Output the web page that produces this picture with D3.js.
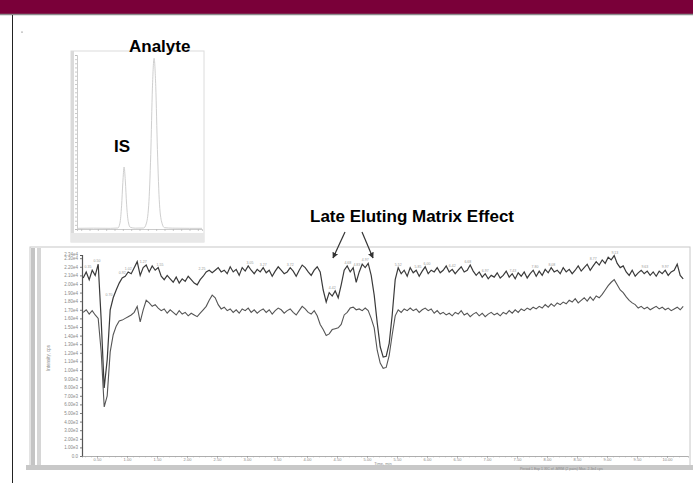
<!DOCTYPE html>
<html lang="en">
<head>
<meta charset="UTF-8">
<script src="https://d3js.org/d3.v7.min.js"></script>
<style>
  body { margin: 0; background: #fff; font-family: Arial, "Liberation Sans", sans-serif; }
  .tiny text { fill: #888; }
</style>
</head>
<body>
<svg id="slide"></svg>
<script>
// ---- main chromatogram data (kcps), sampled every 0.05 min from 0.27 min ----
const sampleStart = 0.27;
const sampleStep = 0.05;

const upperTrace = [
  20.7, 21.4, 20.5, 21.6, 21.0, 22.3, 15.8, 7.9, 11.2, 17.0,
  18.4, 19.3, 20.1, 20.7, 20.9, 21.4, 21.2, 21.9, 22.6, 21.0,
  21.9, 22.2, 21.4, 22.1, 21.6, 21.9, 20.9, 20.5, 21.0, 20.6,
  20.2, 20.8, 20.1, 20.6, 20.3, 20.9, 20.5, 20.1, 19.9, 20.5,
  20.9, 21.4, 21.6, 21.3, 21.6, 21.9, 21.4, 21.6, 21.2, 22.0,
  21.4, 21.7, 21.0, 21.9, 21.5, 22.1, 21.6, 21.2, 21.7, 21.4,
  21.9, 21.3, 21.6, 20.9, 21.5, 22.0, 21.6, 21.2, 21.4, 21.9,
  21.5, 20.9, 21.6, 22.2, 21.9, 21.4, 21.0, 21.6, 22.0, 21.4,
  19.3, 17.9, 19.0, 18.6, 19.2, 18.4, 19.9, 21.6, 22.1, 21.4,
  21.9, 20.2, 21.4, 22.3, 21.9, 22.4, 21.0, 18.7, 15.5, 12.7,
  11.5, 11.6, 13.1, 16.4, 20.5, 21.9, 21.2, 21.6, 20.9, 21.9,
  21.3, 21.6, 20.9, 21.5, 22.0, 21.2, 21.6, 21.4, 21.9, 21.3,
  21.6, 22.1, 21.4, 21.7, 21.2, 21.6, 22.0, 21.4, 21.6, 22.2,
  21.5, 21.0, 21.4, 20.8, 21.2, 20.6, 21.0, 20.8, 21.3, 20.7,
  21.0, 21.5, 20.8, 21.2, 20.6, 21.3, 20.9, 21.4, 20.7, 21.2,
  21.6, 20.9, 21.5, 21.0, 21.7, 21.3, 21.9, 21.4, 21.6, 21.2,
  21.9, 21.4, 21.7, 21.2, 21.6, 22.1, 21.5, 21.9, 22.3, 21.6,
  22.1, 22.6, 22.2, 22.8, 22.4, 23.1, 22.8, 23.3, 22.4, 21.9,
  22.1, 21.4, 21.0, 21.6, 20.9, 21.3, 21.6, 21.2, 21.5, 21.0,
  21.4, 20.9, 21.5, 21.2, 21.6, 21.0, 21.4, 21.6, 22.3, 21.0, 20.6
];

const lowerTrace = [
  16.7, 17.0, 16.5, 16.9, 16.4, 16.0, 12.1, 5.7, 7.0, 12.1,
  14.1, 15.1, 15.7, 15.8, 16.0, 16.2, 16.4, 16.7, 17.4, 15.6,
  17.0, 18.1, 17.8, 17.4, 17.6, 17.2, 16.9, 17.1, 16.6, 17.0,
  16.7, 16.4, 16.9, 16.5, 16.7, 16.3, 16.6, 16.4, 16.2, 16.6,
  17.0, 17.4, 18.1, 18.7, 18.4, 17.6, 17.1, 17.3, 16.9, 17.1,
  16.7, 17.0, 16.6, 17.1, 16.9, 17.2, 16.7, 17.0, 16.6, 16.9,
  17.1, 16.7, 17.0, 16.5, 16.9, 17.2, 17.0, 16.6, 16.9, 17.1,
  16.7, 16.4, 16.9, 17.4, 17.1, 16.7, 16.5, 16.9, 16.3, 15.3,
  14.7, 14.0, 14.2, 14.7, 14.8, 14.9, 15.3, 16.4, 16.7, 17.2,
  17.3, 17.0, 17.1, 16.9, 17.2, 16.9, 16.0, 14.9, 12.3, 10.8,
  10.2, 10.3, 11.7, 14.1, 16.3, 17.0, 16.7, 17.1, 16.9, 17.2,
  16.9, 17.1, 16.7, 17.0, 17.2, 16.9, 17.1, 16.6, 16.9, 16.5,
  16.7, 16.4, 16.6, 16.3, 16.7, 16.5, 16.9, 16.4, 16.6, 16.2,
  16.5, 16.7, 16.3, 16.6, 16.2, 16.5, 16.7, 16.4, 16.6, 16.3,
  16.7, 16.5, 16.9, 16.6, 17.0, 16.7, 17.1, 16.9, 17.2, 17.0,
  17.3, 17.1, 17.4, 17.2, 17.6, 17.3, 17.7, 17.4, 17.8, 17.6,
  17.9, 17.7, 18.1, 17.9, 18.3, 17.8, 18.1, 18.4, 18.0, 18.5,
  18.1, 18.6, 18.4, 18.8, 19.3, 19.8, 20.2, 20.5, 19.9, 19.3,
  19.0, 18.5, 18.1, 17.8, 17.6, 17.2, 17.4, 17.1, 17.3, 17.0,
  17.2, 17.4, 17.1, 17.3, 17.0, 17.2, 16.9, 17.1, 17.3, 17.0, 17.4
];

// retention time labels printed above the upper trace
const peakLabels = [0.35, 0.50, 0.70, 0.92, 1.02, 1.27, 1.55, 2.25, 3.05, 3.27, 3.72,
  4.42, 4.68, 4.83, 4.97, 5.52, 5.85, 6.00, 6.42, 6.68, 6.97, 7.43, 7.80, 8.08,
  8.77, 9.13, 9.63, 9.97];

const xTickValues = [0.5, 1.0, 1.5, 2.0, 2.5, 3.0, 3.5, 4.0, 4.5, 5.0, 5.5, 6.0,
  6.5, 7.0, 7.5, 8.0, 8.5, 9.0, 9.5, 10.0];
const yTickValues = [0, 1, 2, 3, 4, 5, 6, 7, 8, 9, 10, 11, 12, 13, 14, 15, 16, 17,
  18, 19, 20, 21, 22, 23];
const yMaxLabel = 23.4;

// ---- inset: IS and analyte peaks ----
const insetTimes = [0.00, 0.40, 0.80, 0.98, 1.03, 1.07, 1.10, 1.13, 1.16, 1.19, 1.23,
  1.28, 1.40, 1.60, 1.66, 1.72, 1.77, 1.81, 1.85, 1.89, 1.93, 1.98, 2.04, 2.10, 2.30,
  2.70, 3.00];
const insetIntensity = [0.4, 0.5, 0.4, 0.6, 3.5, 14, 28, 37.4, 29, 15, 4.5,
  1.0, 0.5, 0.6, 3.0, 14, 45, 85, 103, 86, 48, 15, 3.5, 0.8, 0.5,
  0.4, 0.4];

const W = 693, H = 483;
const svg = d3.select("#slide").attr("width", W).attr("height", H);

// header band
svg.append("rect").attr("x", 0).attr("y", 0).attr("width", W).attr("height", 14).attr("fill", "#7a0039");
svg.append("line").attr("x1", 0).attr("x2", W).attr("y1", 14.5).attr("y2", 14.5).attr("stroke", "#8c8c8c").attr("stroke-width", 1.5);
svg.append("line").attr("x1", 12.5).attr("x2", 12.5).attr("y1", 15).attr("y2", H).attr("stroke", "#222").attr("stroke-width", 1);
svg.append("circle").attr("cx", 22).attr("cy", 32).attr("r", 0.6).attr("fill", "#444");

// ---------- inset chart ----------
const inset = svg.append("g");
inset.append("rect").attr("x", 71).attr("y", 51).attr("width", 133).attr("height", 191)
  .attr("fill", "#fff").attr("stroke", "#dcdcdc").attr("stroke-width", 1);
inset.append("rect").attr("x", 71).attr("y", 51).attr("width", 3).attr("height", 191).attr("fill", "#dadada");
inset.append("rect").attr("x", 71).attr("y", 233).attr("width", 133).attr("height", 9).attr("fill", "#e8e8e8");

const ix = d3.scaleLinear().domain([0, 3.0]).range([77, 202]);
const iy = d3.scaleLinear().domain([0, 105]).range([229, 55]);

const iyAxis = inset.append("g").attr("class", "tiny")
  .attr("transform", "translate(77,0)")
  .call(d3.axisLeft(iy).tickValues(d3.range(0, 106, 2.5)).tickSize(2).tickFormat(""));
iyAxis.selectAll("path, line").attr("stroke", "#b4b4b4").attr("stroke-width", 0.7);

const ixAxis = inset.append("g").attr("class", "tiny")
  .attr("transform", "translate(0,229)")
  .call(d3.axisBottom(ix).tickValues(d3.range(0.1, 3.0, 0.2)).tickSize(2).tickFormat(""));
ixAxis.selectAll("path, line").attr("stroke", "#b4b4b4").attr("stroke-width", 0.7);

const insetLine = d3.line()
  .x((d, i) => ix(insetTimes[i]))
  .y(d => iy(d))
  .curve(d3.curveMonotoneX);
inset.append("path").datum(insetIntensity).attr("d", insetLine)
  .attr("fill", "none").attr("stroke", "#cfcfcf").attr("stroke-width", 1);

svg.append("text").attr("x", 129).attr("y", 52).attr("font-size", 17).attr("font-weight", "bold").text("Analyte");
svg.append("text").attr("x", 114).attr("y", 152).attr("font-size", 17).attr("font-weight", "bold").text("IS");

// ---------- main chart ----------
const main = svg.append("g");
main.append("rect").attr("x", 30).attr("y", 247).attr("width", 660).attr("height", 222)
  .attr("fill", "#fff").attr("stroke", "#c8c8c8").attr("stroke-width", 1);
main.append("rect").attr("x", 31).attr("y", 248).attr("width", 4).attr("height", 220).attr("fill", "#c4c4c4");
main.append("rect").attr("x", 37).attr("y", 248).attr("width", 4).attr("height", 220).attr("fill", "#d6d6d6");
main.append("rect").attr("x", 26).attr("y", 465).attr("width", 667).attr("height", 5).attr("fill", "#c8c8c8");

const x = d3.scaleLinear().domain([0.25, 10.35]).range([82, 688]);
const y = d3.scaleLinear().domain([0, 23.37]).range([456, 255]);

const yAxis = main.append("g").attr("class", "tiny")
  .attr("transform", "translate(82,0)")
  .call(d3.axisLeft(y).tickValues(yTickValues).tickSize(2).tickPadding(2)
    .tickFormat(d => d === 0 ? "0.0" : (d * 1000).toExponential(2).replace("+", "")));
yAxis.select("path").attr("stroke", "#555").attr("stroke-width", 1.2);
yAxis.selectAll("line").attr("stroke", "#777");
yAxis.selectAll("text").attr("font-size", 4.5);
main.append("text").attr("x", 78).attr("y", y(yMaxLabel) + 1.5).attr("text-anchor", "end")
  .attr("font-size", 4.5).attr("fill", "#888").text((yMaxLabel * 1000).toExponential(2).replace("+", ""));

const xAxis = main.append("g").attr("class", "tiny")
  .attr("transform", "translate(0,456)")
  .call(d3.axisBottom(x).tickValues(xTickValues).tickSize(1.5).tickPadding(0.5).tickFormat(d3.format(".2f")));
xAxis.select("path").attr("stroke", "#999").attr("stroke-width", 0.8);
xAxis.selectAll("line").attr("stroke", "#888");
xAxis.selectAll("text").attr("font-size", 4);
main.append("g").attr("transform", "translate(0,456)")
  .call(d3.axisBottom(x).tickValues(d3.range(0.3, 10.3, 0.1)).tickSize(1.5).tickFormat(""))
  .call(g => g.select("path").remove())
  .selectAll("line").attr("stroke", "#aaa").attr("stroke-width", 0.5);

main.append("text").attr("x", 383).attr("y", 464.5).attr("text-anchor", "middle")
  .attr("font-size", 4).attr("fill", "#888").text("Time, min");
main.append("text").attr("transform", "translate(50,358) rotate(-90)").attr("text-anchor", "middle")
  .attr("font-size", 4.5).attr("fill", "#888").text("Intensity, cps");

const traceLine = d3.line()
  .x((d, i) => x(sampleStart + i * sampleStep))
  .y(d => y(d));
main.append("path").datum(lowerTrace).attr("d", traceLine)
  .attr("fill", "none").attr("stroke", "#555").attr("stroke-width", 1.1);
main.append("path").datum(upperTrace).attr("d", traceLine)
  .attr("fill", "none").attr("stroke", "#3a3a3a").attr("stroke-width", 1.2);

main.append("g").selectAll("text").data(peakLabels).join("text")
  .attr("x", d => x(d))
  .attr("y", d => {
    const i = Math.round((d - sampleStart) / sampleStep);
    const v = d3.max(upperTrace.slice(Math.max(0, i - 1), i + 2));
    return y(v) - 2;
  })
  .attr("text-anchor", "middle").attr("font-size", 3.5).attr("fill", "#999")
  .text(d => d.toFixed(2));

// status bar text under the chart
main.append("text").attr("x", 520).attr("y", 469.5).attr("font-size", 3.5).attr("fill", "#888")
  .text("Period 1 Exp 1    XIC of -MRM (2 pairs)    Max. 2.3e4 cps");

// annotation
svg.append("text").attr("x", 310).attr("y", 222).attr("font-size", 17).attr("font-weight", "bold").text("Late Eluting Matrix Effect");
const defs = svg.append("defs");
defs.append("marker").attr("id", "ah").attr("viewBox", "0 0 10 10").attr("refX", 9).attr("refY", 5)
  .attr("markerWidth", 5).attr("markerHeight", 5).attr("orient", "auto")
  .append("path").attr("d", "M0,0 L10,5 L0,10 z").attr("fill", "#333");
const arrows = [[345, 232, 333, 258], [362, 232, 373, 258]];
svg.append("g").selectAll("line").data(arrows).join("line")
  .attr("x1", d => d[0]).attr("y1", d => d[1]).attr("x2", d => d[2]).attr("y2", d => d[3])
  .attr("stroke", "#333").attr("stroke-width", 1.2).attr("marker-end", "url(#ah)");
</script>
</body>
</html>
